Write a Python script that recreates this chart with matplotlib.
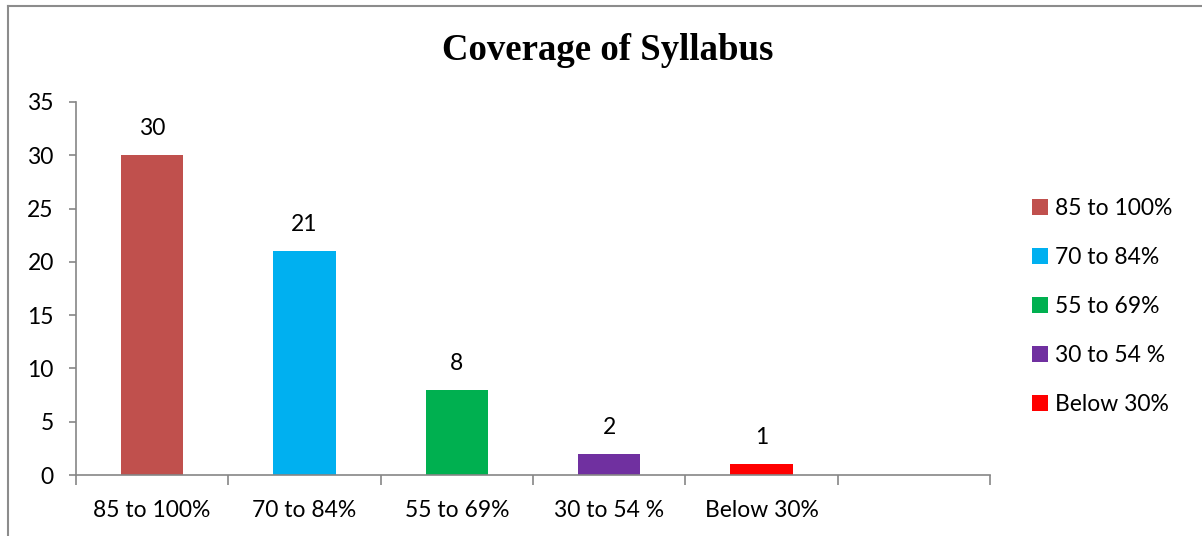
import matplotlib
matplotlib.use("Agg")
import matplotlib.pyplot as plt
from matplotlib.patches import Patch
from matplotlib.lines import Line2D

categories = ["85 to 100%", "70 to 84%", "55 to 69%", "30 to 54 %", "Below 30%"]
values = [30, 21, 8, 2, 1]
colors = ["#C0504D", "#00B0F0", "#00B050", "#7030A0", "#FF0000"]
yticks = [0, 5, 10, 15, 20, 25, 30, 35]
title = "Coverage of Syllabus"

plt.rcParams['font.family'] = ['Lato', 'DejaVu Sans']
FS = 16.5

fig = plt.figure(figsize=(12.02, 5.36), dpi=100)
ax = fig.add_axes([76/1202, 1-475/536, (990-76)/1202, (475-102)/536])

x = list(range(len(categories)))
bars = ax.bar(x, values, width=0.41, color=colors)
for xi, v in zip(x, values):
    ax.annotate(str(v), (xi, v), xytext=(0, 19), textcoords="offset points",
                ha="center", va="center", fontsize=FS)

ax.set_xlim(-0.5, 5.5)
ax.set_ylim(0, 35)
ax.set_yticks(yticks)
ax.set_yticklabels([str(t) for t in yticks], fontsize=FS)
ax.tick_params(axis='y', length=5, color="#868686", width=1.2, pad=11)

ax.set_xticks([i - 0.5 for i in range(7)])
ax.set_xticklabels([])
ax.set_xticks(x, minor=True)
ax.set_xticklabels(categories, minor=True, fontsize=FS)
ax.tick_params(axis='x', which='major', length=7, color="#868686", width=1.2)
ax.tick_params(axis='x', which='minor', length=0, pad=18)

for s in ["top", "right"]:
    ax.spines[s].set_visible(False)
for s in ["left", "bottom"]:
    ax.spines[s].set_color("#868686")
    ax.spines[s].set_linewidth(1.2)

fig.text(608/1202, 1-50/536, title, ha="center", va="center",
         fontsize=26.5, fontweight="bold", family="Liberation Serif")

handles = [Patch(facecolor=c, edgecolor="none") for c in colors]
fig.legend(handles, categories, loc="center left", bbox_to_anchor=(1011/1202, 1-306.5/536),
           frameon=False, fontsize=FS, handlelength=0.7, handleheight=0.7,
           handletextpad=0.3, labelspacing=1.22)

# outer chart border (top and left)
fig.add_artist(Line2D([8/1202, 8/1202], [0, 1-6/536], transform=fig.transFigure,
                      color="#8c8c8c", lw=1.5))
fig.add_artist(Line2D([8/1202, 1], [1-6/536, 1-6/536], transform=fig.transFigure,
                      color="#8c8c8c", lw=1.5))

fig.savefig("out.png", dpi=100)
